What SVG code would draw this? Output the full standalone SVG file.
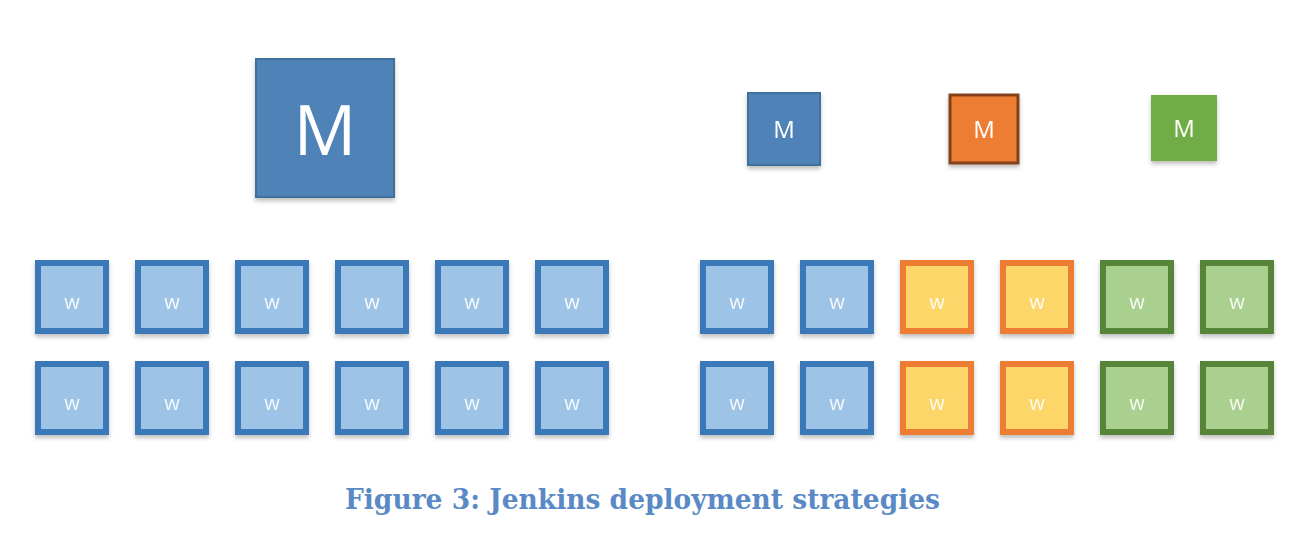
<svg xmlns="http://www.w3.org/2000/svg" width="1298" height="538" viewBox="0 0 1298 538">
<defs>
<filter id="sh" x="-20%" y="-20%" width="140%" height="150%">
<feDropShadow dx="0" dy="3" stdDeviation="2" flood-color="#000" flood-opacity="0.25"/>
</filter>
</defs>
<style>
.bm{fill:#5083b8;stroke:#41709c;stroke-width:2}
.wb{fill:#9dc3e6;stroke:#3a78b8;stroke-width:6}
.wo{fill:#fdd66a;stroke:#ed7d31;stroke-width:6}
.wg{fill:#a9d08e;stroke:#568437;stroke-width:6}
.mt{fill:#fff;font-family:"Open Sans","Liberation Sans",sans-serif;text-anchor:middle}
.wt{fill:#fff;fill-opacity:0.9;font-family:"Open Sans","Liberation Sans",sans-serif;font-size:20px;text-anchor:middle}
.cap{fill:#5a8ac6;font-family:"DejaVu Serif","Liberation Serif",serif;font-weight:bold;font-size:27px}
</style>
<rect width="1298" height="538" fill="#fff"/>
<g id="master-big" filter="url(#sh)">
<rect class="bm" x="256" y="59" width="138" height="138"/>
<text class="mt" x="325" y="155" font-size="70">M</text>
</g>
<g id="master-blue" filter="url(#sh)">
<rect class="bm" x="748" y="93" width="72" height="72"/>
<text class="mt" x="784" y="138" font-size="24">M</text>
</g>
<g id="master-orange" filter="url(#sh)">
<rect x="950" y="95" width="68" height="68" fill="#ed7d31" stroke="#84411a" stroke-width="3"/>
<text class="mt" x="984" y="138" font-size="24">M</text>
</g>
<g id="master-green" filter="url(#sh)">
<rect x="1151" y="95" width="66" height="66" fill="#70ad47"/>
<text class="mt" x="1184" y="137" font-size="24">M</text>
</g>
<g id="workers-left" filter="url(#sh)">
<g id="wl1"><rect class="wb" x="38" y="263" width="68" height="68"/><text class="wt" x="72" y="309">w</text></g>
<g id="wl2"><rect class="wb" x="138" y="263" width="68" height="68"/><text class="wt" x="172" y="309">w</text></g>
<g id="wl3"><rect class="wb" x="238" y="263" width="68" height="68"/><text class="wt" x="272" y="309">w</text></g>
<g id="wl4"><rect class="wb" x="338" y="263" width="68" height="68"/><text class="wt" x="372" y="309">w</text></g>
<g id="wl5"><rect class="wb" x="438" y="263" width="68" height="68"/><text class="wt" x="472" y="309">w</text></g>
<g id="wl6"><rect class="wb" x="538" y="263" width="68" height="68"/><text class="wt" x="572" y="309">w</text></g>
<g id="wl7"><rect class="wb" x="38" y="364" width="68" height="68"/><text class="wt" x="72" y="410">w</text></g>
<g id="wl8"><rect class="wb" x="138" y="364" width="68" height="68"/><text class="wt" x="172" y="410">w</text></g>
<g id="wl9"><rect class="wb" x="238" y="364" width="68" height="68"/><text class="wt" x="272" y="410">w</text></g>
<g id="wl10"><rect class="wb" x="338" y="364" width="68" height="68"/><text class="wt" x="372" y="410">w</text></g>
<g id="wl11"><rect class="wb" x="438" y="364" width="68" height="68"/><text class="wt" x="472" y="410">w</text></g>
<g id="wl12"><rect class="wb" x="538" y="364" width="68" height="68"/><text class="wt" x="572" y="410">w</text></g>
</g>
<g id="workers-right" filter="url(#sh)">
<g id="wr1"><rect class="wb" x="703" y="263" width="68" height="68"/><text class="wt" x="737" y="309">w</text></g>
<g id="wr2"><rect class="wb" x="803" y="263" width="68" height="68"/><text class="wt" x="837" y="309">w</text></g>
<g id="wr3"><rect class="wo" x="903" y="263" width="68" height="68"/><text class="wt" x="937" y="309">w</text></g>
<g id="wr4"><rect class="wo" x="1003" y="263" width="68" height="68"/><text class="wt" x="1037" y="309">w</text></g>
<g id="wr5"><rect class="wg" x="1103" y="263" width="68" height="68"/><text class="wt" x="1137" y="309">w</text></g>
<g id="wr6"><rect class="wg" x="1203" y="263" width="68" height="68"/><text class="wt" x="1237" y="309">w</text></g>
<g id="wr7"><rect class="wb" x="703" y="364" width="68" height="68"/><text class="wt" x="737" y="410">w</text></g>
<g id="wr8"><rect class="wb" x="803" y="364" width="68" height="68"/><text class="wt" x="837" y="410">w</text></g>
<g id="wr9"><rect class="wo" x="903" y="364" width="68" height="68"/><text class="wt" x="937" y="410">w</text></g>
<g id="wr10"><rect class="wo" x="1003" y="364" width="68" height="68"/><text class="wt" x="1037" y="410">w</text></g>
<g id="wr11"><rect class="wg" x="1103" y="364" width="68" height="68"/><text class="wt" x="1137" y="410">w</text></g>
<g id="wr12"><rect class="wg" x="1203" y="364" width="68" height="68"/><text class="wt" x="1237" y="410">w</text></g>
</g>
<g id="connectors"></g>
<text class="cap" x="345" y="509" textLength="595" lengthAdjust="spacingAndGlyphs">Figure 3: Jenkins deployment strategies</text>
</svg>
